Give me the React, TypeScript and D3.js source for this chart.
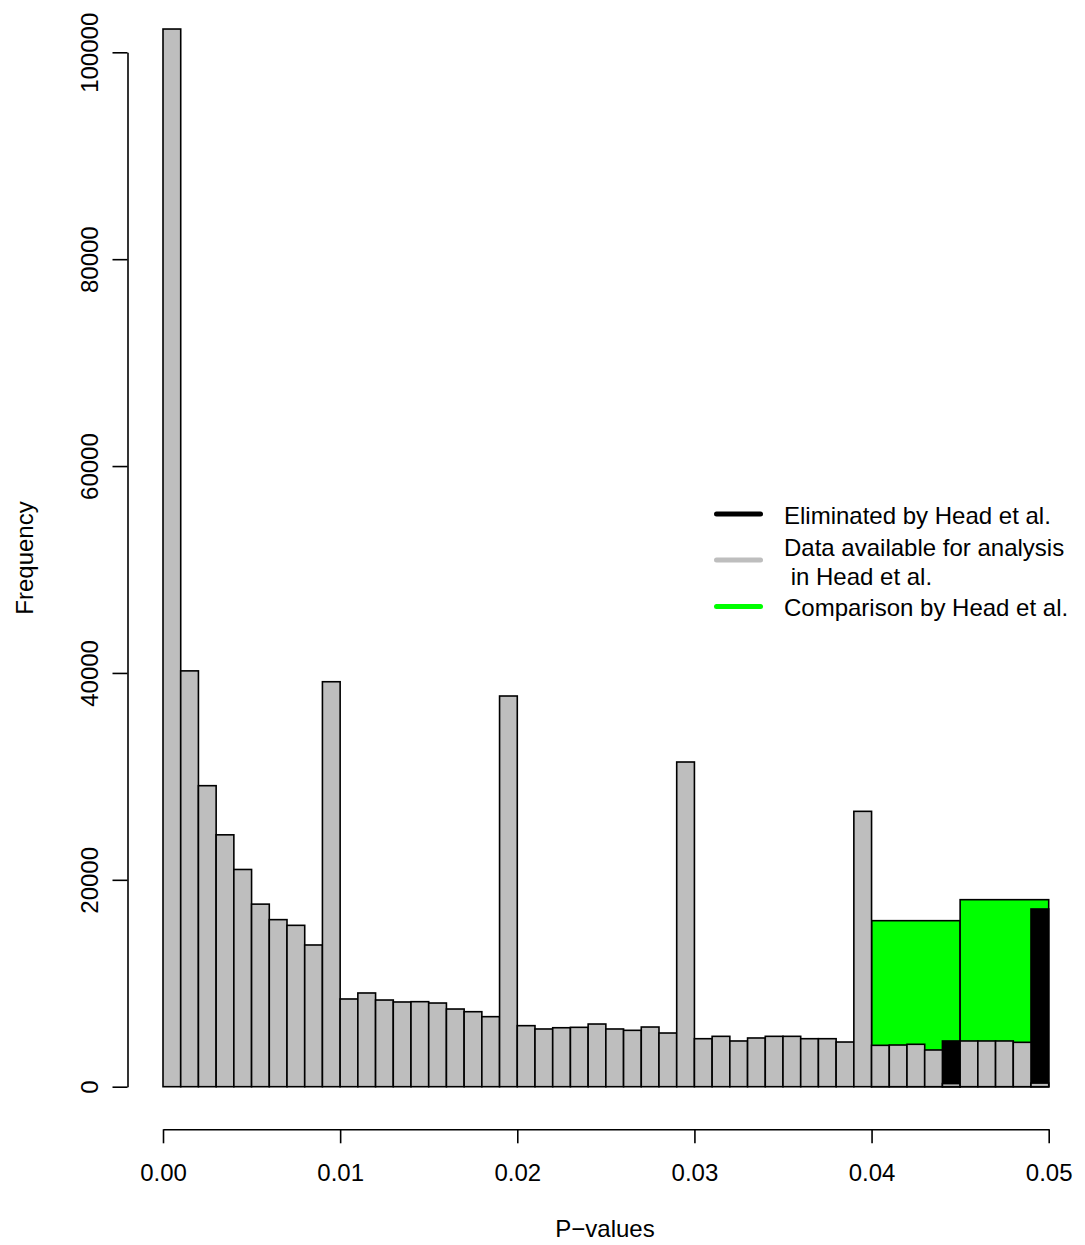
import React, { useEffect, useRef } from 'react';
import * as d3 from 'd3';

// histogram of p-values, bin width 0.001 from 0 to 0.05
const BIN_WIDTH = 0.001;
const availableCounts = [
  102250, 40200, 29100, 24350, 21000, 17650, 16150, 15600, 13700, 39150,
  8480, 9060, 8380, 8190, 8220, 8090, 7510, 7250, 6770, 37770,
  5900, 5580, 5700, 5740, 6060, 5580, 5450, 5770, 5190, 31390,
  4640, 4870, 4420, 4710, 4870, 4870, 4640, 4640, 4320, 26620,
  4000, 4030, 4100, 3550, 300, 4420, 4420, 4420, 4290, 350,
];

// bins removed by Head et al.
const eliminatedStarts = [0.044, 0.049];
const eliminatedCounts = [4420, 17180];

// wide bins used for the comparison
const comparisonStarts = [0.04, 0.045];
const comparisonEnds = [0.045, 0.05];
const comparisonCounts = [16050, 18080];

const xTicks = [0, 0.01, 0.02, 0.03, 0.04, 0.05];
const yTicks = [0, 20000, 40000, 60000, 80000, 100000];

const legendLabels = [
  ['Eliminated by Head et al.'],
  ['Data available for analysis', ' in Head et al.'],
  ['Comparison by Head et al.'],
];
const legendColors = ['#000000', '#bebebe', '#00ff00'];

const FONT = '"Liberation Sans", Arial, Helvetica, sans-serif';

const App = () => {
  const ref = useRef<SVGSVGElement | null>(null);

  useEffect(() => {
    if (!ref.current) return;
    const svg = d3.select(ref.current);
    svg.selectAll('*').remove();

    const x = d3.scaleLinear().domain([0, 0.05]).range([163, 1048.7]);
    const y = d3.scaleLinear().domain([0, 100000]).range([1086.7, 52.3]);

    const g = svg.append('g');

    // comparison (green) wide bins first
    g.selectAll('.cmp')
      .data(comparisonCounts)
      .enter()
      .append('rect')
      .attr('class', 'cmp')
      .attr('x', (d, i) => x(comparisonStarts[i]))
      .attr('width', (d, i) => x(comparisonEnds[i]) - x(comparisonStarts[i]))
      .attr('y', d => y(d))
      .attr('height', d => y(0) - y(d))
      .attr('fill', '#00ff00')
      .attr('stroke', '#000')
      .attr('stroke-width', 1.6);

    // eliminated (black)
    g.selectAll('.elim')
      .data(eliminatedCounts)
      .enter()
      .append('rect')
      .attr('class', 'elim')
      .attr('x', (d, i) => x(eliminatedStarts[i]))
      .attr('width', (d, i) => x(eliminatedStarts[i] + BIN_WIDTH) - x(eliminatedStarts[i]))
      .attr('y', d => y(d))
      .attr('height', d => y(0) - y(d))
      .attr('fill', '#000')
      .attr('stroke', '#000')
      .attr('stroke-width', 1.6);

    // available data (gray) on top
    g.selectAll('.avail')
      .data(availableCounts)
      .enter()
      .append('rect')
      .attr('class', 'avail')
      .attr('x', (d, i) => x(i * BIN_WIDTH))
      .attr('width', (d, i) => x((i + 1) * BIN_WIDTH) - x(i * BIN_WIDTH))
      .attr('y', d => y(d))
      .attr('height', d => y(0) - y(d))
      .attr('fill', '#bebebe')
      .attr('stroke', '#000')
      .attr('stroke-width', 1.6);

    // x axis
    g.append('g')
      .attr('transform', `translate(0,1129.3)`)
      .call(d3.axisBottom(x).tickValues(xTicks).tickSize(14).tickSizeOuter(0).tickFormat(d3.format('.2f')))
      .call(ax => {
        ax.select('.domain').attr('stroke', '#000').attr('stroke-width', 1.6);
        ax.selectAll('line').attr('stroke', '#000').attr('stroke-width', 1.6);
        ax.selectAll('text')
          .attr('y', 52)
          .attr('dy', null)
          .attr('fill', '#000')
          .style('font-family', FONT)
          .style('font-size', '24px');
      });

    // y axis
    g.append('g')
      .attr('transform', `translate(127.5,0)`)
      .call(d3.axisLeft(y).tickValues(yTicks).tickSize(15).tickSizeOuter(0).tickFormat(d3.format('d')))
      .call(ax => {
        ax.select('.domain').attr('stroke', '#000').attr('stroke-width', 1.6);
        ax.selectAll('line').attr('stroke', '#000').attr('stroke-width', 1.6);
        ax.selectAll('text')
          .attr('x', null)
          .attr('dy', null)
          .attr('transform', 'translate(-29.5,0) rotate(-90)')
          .attr('text-anchor', 'middle')
          .attr('fill', '#000')
          .style('font-family', FONT)
          .style('font-size', '24px');
      });

    // axis titles
    g.append('text')
      .attr('transform', 'translate(605,1237)')
      .attr('text-anchor', 'middle')
      .style('font-family', FONT)
      .style('font-size', '24px')
      .text('P\u2212values');

    g.append('text')
      .attr('transform', 'translate(33,558) rotate(-90)')
      .attr('text-anchor', 'middle')
      .style('font-family', FONT)
      .style('font-size', '24px')
      .text('Frequency');

    // legend
    const legendLineY = [514, 560, 606.5];
    const legendTextY = [[523.5], [556, 585], [616]];
    const lg = g.append('g');
    legendLabels.forEach((lines, i) => {
      lg.append('line')
        .attr('x1', 716.5)
        .attr('x2', 760.5)
        .attr('y1', legendLineY[i])
        .attr('y2', legendLineY[i])
        .attr('stroke', legendColors[i])
        .attr('stroke-width', 5)
        .attr('stroke-linecap', 'round');
      lines.forEach((t, j) => {
        lg.append('text')
          .attr('x', 784)
          .attr('y', legendTextY[i][j])
          .style('font-family', FONT)
          .style('font-size', '24px')
          .style('white-space', 'pre')
          .text(t);
      });
    });
  }, []);

  return (
    <svg
      ref={ref}
      width={1085}
      height={1245}
      style={{ position: 'absolute', left: 0, top: 0, background: '#fff' }}
    />
  );
};

export default App;
